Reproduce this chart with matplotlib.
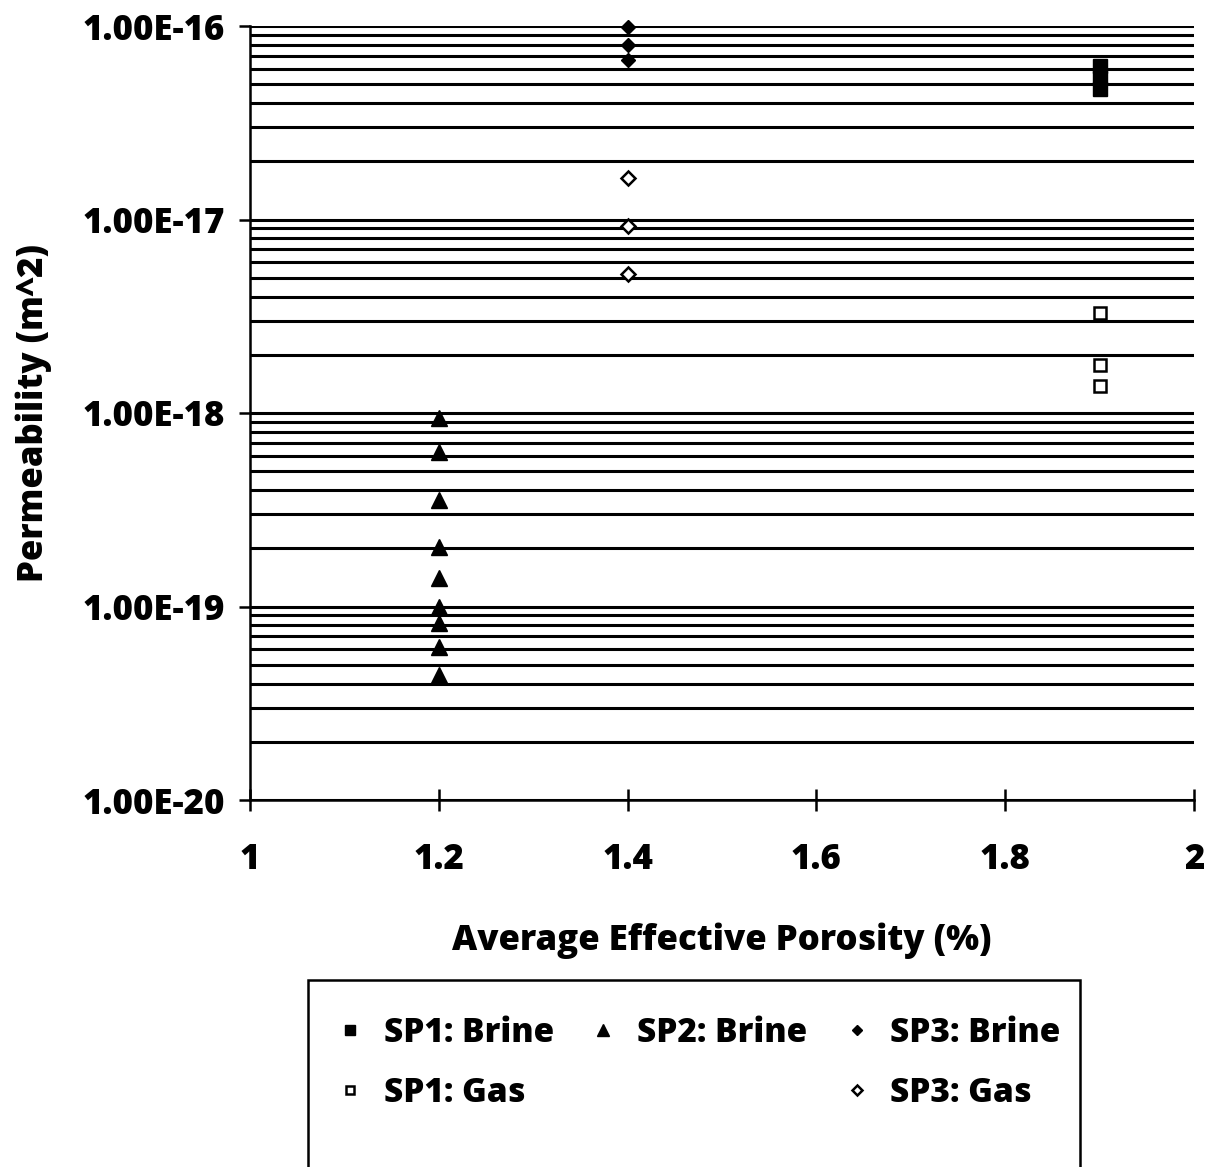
import matplotlib
matplotlib.use("Agg")
import matplotlib.pyplot as plt
from matplotlib.lines import Line2D
from matplotlib.patches import Rectangle
from matplotlib.ticker import FixedLocator, LogLocator, NullFormatter

# Average effective porosity (%) for each specimen
sp1_porosity = 1.9
sp2_porosity = 1.2
sp3_porosity = 1.4

# Permeability (m^2) measurements
sp1_brine = [6.2e-17, 5.4e-17, 4.7e-17]
sp1_gas = [3.3e-18, 1.77e-18, 1.38e-18]
sp2_brine = [9.4e-19, 6.3e-19, 3.55e-19, 2.03e-19, 1.40e-19,
             9.9e-20, 8.2e-20, 6.2e-20, 4.4e-20]
sp3_brine = [9.9e-17, 8.0e-17, 6.7e-17]
sp3_gas = [1.64e-17, 9.3e-18, 5.2e-18]

x_ticks = [1, 1.2, 1.4, 1.6, 1.8, 2]
x_tick_labels = ["1", "1.2", "1.4", "1.6", "1.8", "2"]
y_ticks = [1e-20, 1e-19, 1e-18, 1e-17, 1e-16]
y_tick_labels = ["1.00E-20", "1.00E-19", "1.00E-18", "1.00E-17", "1.00E-16"]

FS = 25
LEG_FS = 24
WEIGHT = "heavy"
plt.rcParams["font.family"] = ["Open Sans", "DejaVu Sans"]
plt.rcParams["font.weight"] = WEIGHT

fig = plt.figure(figsize=(12.14, 11.67), dpi=100)
ax = fig.add_axes([250 / 1214, 1 - 800 / 1167, 944 / 1214, 774 / 1167])

ax.set_yscale("log")
ax.set_xlim(1, 2)
ax.set_ylim(1e-20, 1e-16)

# Horizontal gridlines at every decade subdivision
ax.yaxis.set_major_locator(FixedLocator(y_ticks))
ax.yaxis.set_minor_locator(LogLocator(base=10, subs=range(2, 10), numticks=20))
ax.yaxis.set_minor_formatter(NullFormatter())
ax.set_yticklabels(y_tick_labels)
ax.grid(True, which="both", axis="y", color="black", linewidth=2.2)
ax.set_axisbelow(True)

ax.set_xticks(x_ticks)
ax.set_xticklabels(x_tick_labels)

for side in ("top", "right"):
    ax.spines[side].set_visible(False)
for side in ("left", "bottom"):
    ax.spines[side].set_linewidth(1.8)

ax.tick_params(axis="y", which="major", direction="out", length=8, width=1.8,
               labelsize=FS, pad=10)
ax.tick_params(axis="y", which="minor", length=0)
ax.tick_params(axis="x", which="major", direction="inout", length=16, width=1.8,
               labelsize=FS, pad=22)

ax.set_xlabel("Average Effective Porosity (%)", fontsize=FS, fontweight=WEIGHT,
              labelpad=32)
ax.set_ylabel("Permeability (m^2)", fontsize=FS, fontweight=WEIGHT, labelpad=22)

mk = dict(linestyle="none", color="black", markeredgecolor="black", clip_on=False)
h_sp1b, = ax.plot([sp1_porosity] * len(sp1_brine), sp1_brine, marker="s",
                  markersize=9.5, **mk)
h_sp2b, = ax.plot([sp2_porosity] * len(sp2_brine), sp2_brine, marker="^",
                  markersize=11.5, **mk)
h_sp3b, = ax.plot([sp3_porosity] * len(sp3_brine), sp3_brine, marker="D",
                  markersize=7, **mk)
h_sp1g, = ax.plot([sp1_porosity] * len(sp1_gas), sp1_gas, marker="s",
                  markersize=8.5, markerfacecolor="white", markeredgewidth=1.8,
                  linestyle="none", color="black")
h_sp3g, = ax.plot([sp3_porosity] * len(sp3_gas), sp3_gas, marker="D",
                  markersize=7, markerfacecolor="white", markeredgewidth=1.8,
                  linestyle="none", color="black")

blank = Line2D([], [], linestyle="none", marker=None)

# Legend frame extends below the page edge
frame = Rectangle((308 / 1214, -0.05), (1080 - 308) / 1214, 1 - 980 / 1167 + 0.05,
                  transform=fig.transFigure, fill=False, edgecolor="black",
                  linewidth=1.8)
fig.patches.append(frame)

leg = fig.legend([h_sp1b, h_sp1g, h_sp2b, blank, h_sp3b, h_sp3g],
                 ["SP1: Brine", "SP1: Gas", "SP2: Brine", "", "SP3: Brine", "SP3: Gas"],
                 ncol=3, frameon=False, loc="upper left",
                 bbox_to_anchor=(307 / 1214, 1 - 986 / 1167),
                 bbox_transform=fig.transFigure,
                 prop={"size": LEG_FS, "weight": WEIGHT},
                 handlelength=0.8, handletextpad=0.6, columnspacing=1.09,
                 labelspacing=0.78, markerscale=0.7)

fig.savefig("out.png", dpi=100)
